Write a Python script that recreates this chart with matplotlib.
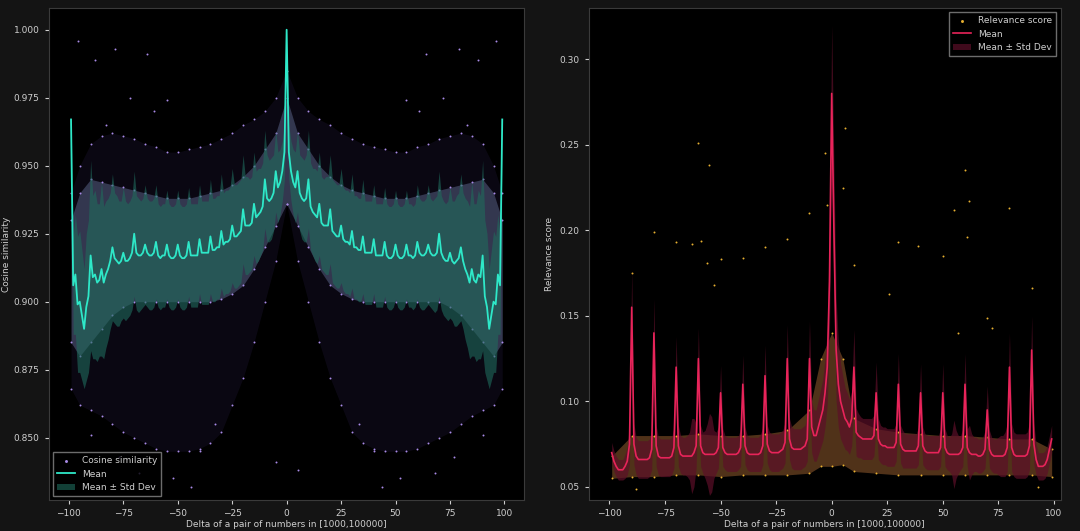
import numpy as np
import matplotlib
matplotlib.use('Agg')
import matplotlib.pyplot as plt

# ---- cosine similarity (left), mean for delta = 0..99, mirrored for negatives
cos_mean_pos = [1.000, 0.955, 0.948, 0.944, 0.942, 0.948, 0.940, 0.938, 0.937, 0.938,
                0.945, 0.935, 0.933, 0.932, 0.931, 0.936, 0.929, 0.928, 0.928, 0.928,
                0.934, 0.926, 0.925, 0.924, 0.924, 0.928, 0.923, 0.922, 0.922, 0.921,
                0.926, 0.920, 0.920, 0.919, 0.919, 0.924, 0.918, 0.918, 0.918, 0.918,
                0.923, 0.917, 0.917, 0.917, 0.917, 0.922, 0.917, 0.916, 0.916, 0.917,
                0.921, 0.917, 0.916, 0.916, 0.917, 0.921, 0.917, 0.917, 0.916, 0.917,
                0.922, 0.918, 0.917, 0.917, 0.918, 0.921, 0.918, 0.917, 0.917, 0.918,
                0.925, 0.918, 0.916, 0.915, 0.915, 0.918, 0.915, 0.914, 0.915, 0.916,
                0.920, 0.915, 0.912, 0.910, 0.907, 0.912, 0.908, 0.907, 0.910, 0.909,
                0.917, 0.902, 0.898, 0.890, 0.895, 0.900, 0.899, 0.910, 0.906, 0.967]
cos_std_pos = [0.000, 0.010, 0.011, 0.012, 0.013, 0.015, 0.014, 0.015, 0.015, 0.016,
               0.018, 0.016, 0.016, 0.017, 0.017, 0.019, 0.017, 0.017, 0.018, 0.018,
               0.020, 0.019, 0.019, 0.019, 0.019, 0.021, 0.019, 0.019, 0.019, 0.019,
               0.021, 0.019, 0.019, 0.019, 0.019, 0.021, 0.019, 0.019, 0.019, 0.019,
               0.020, 0.019, 0.019, 0.019, 0.019, 0.020, 0.019, 0.019, 0.019, 0.019,
               0.020, 0.019, 0.019, 0.019, 0.019, 0.020, 0.019, 0.019, 0.019, 0.019,
               0.021, 0.020, 0.020, 0.020, 0.020, 0.022, 0.020, 0.020, 0.021, 0.021,
               0.023, 0.021, 0.021, 0.021, 0.022, 0.024, 0.022, 0.023, 0.024, 0.024,
               0.027, 0.025, 0.026, 0.027, 0.028, 0.032, 0.028, 0.029, 0.031, 0.030,
               0.035, 0.028, 0.027, 0.022, 0.024, 0.026, 0.025, 0.022, 0.018, 0.001]
# cloud envelopes on a coarse delta grid (0,5,...,95,99)
env_x = [0, 5, 10, 15, 20, 25, 30, 35, 40, 45, 50, 55, 60, 65, 70, 75, 80, 85, 90, 95, 99]
cos_dense_hi = [0.975, 0.962, 0.956, 0.950, 0.946, 0.943, 0.941, 0.940, 0.939, 0.938, 0.938,
                0.938, 0.939, 0.940, 0.941, 0.942, 0.943, 0.944, 0.945, 0.940, 0.930]
cos_dense_lo = [0.936, 0.928, 0.920, 0.912, 0.906, 0.903, 0.901, 0.900, 0.900, 0.900, 0.900,
                0.900, 0.900, 0.900, 0.900, 0.898, 0.895, 0.890, 0.885, 0.880, 0.885]
cos_sparse_hi = [0.985, 0.975, 0.970, 0.967, 0.965, 0.962, 0.960, 0.958, 0.957, 0.956, 0.955,
                 0.955, 0.957, 0.958, 0.960, 0.961, 0.962, 0.961, 0.958, 0.950, 0.940]
cos_sparse_lo = [0.936, 0.915, 0.900, 0.885, 0.872, 0.862, 0.852, 0.848, 0.846, 0.845, 0.845,
                 0.845, 0.846, 0.848, 0.850, 0.852, 0.855, 0.858, 0.860, 0.862, 0.868]
cos_out_x = [-96, -88, -79, -72, -64, -55, -44, -90, -68, -77, -52, -40, -33, -61, -83,
             96, 88, 79, 72, 64, 55, 44, 90, 68, 77, 52, 40, 33, 61, 83, 5, -5]
cos_out_y = [0.996, 0.989, 0.993, 0.975, 0.991, 0.974, 0.832, 0.851, 0.837, 0.843, 0.835, 0.845, 0.855, 0.970, 0.965,
             0.996, 0.989, 0.993, 0.975, 0.991, 0.974, 0.832, 0.851, 0.837, 0.843, 0.835, 0.845, 0.855, 0.970, 0.965, 0.838, 0.841]

# ---- relevance score (right), mean for delta = 0..99 and -1..-99
rel_mean_pos = [0.280, 0.200, 0.130, 0.110, 0.100, 0.095, 0.090, 0.088, 0.085, 0.090,
                0.120, 0.082, 0.080, 0.079, 0.078, 0.078, 0.078, 0.078, 0.078, 0.080,
                0.105, 0.078, 0.075, 0.074, 0.074, 0.073, 0.073, 0.073, 0.073, 0.076,
                0.110, 0.075, 0.072, 0.071, 0.071, 0.071, 0.071, 0.071, 0.071, 0.074,
                0.105, 0.074, 0.071, 0.070, 0.070, 0.070, 0.070, 0.070, 0.070, 0.073,
                0.105, 0.073, 0.070, 0.069, 0.069, 0.069, 0.069, 0.069, 0.070, 0.073,
                0.110, 0.073, 0.070, 0.069, 0.069, 0.069, 0.068, 0.068, 0.069, 0.072,
                0.095, 0.072, 0.069, 0.068, 0.068, 0.068, 0.068, 0.068, 0.069, 0.073,
                0.120, 0.073, 0.069, 0.068, 0.068, 0.068, 0.068, 0.068, 0.069, 0.074,
                0.130, 0.075, 0.066, 0.062, 0.062, 0.062, 0.063, 0.066, 0.072, 0.078]
rel_mean_neg = [0.170, 0.120, 0.105, 0.095, 0.090, 0.085, 0.080, 0.080, 0.085,
                0.125, 0.078, 0.074, 0.073, 0.072, 0.072, 0.072, 0.072, 0.073, 0.078,
                0.125, 0.076, 0.072, 0.071, 0.070, 0.070, 0.070, 0.070, 0.071, 0.075,
                0.115, 0.074, 0.070, 0.069, 0.069, 0.069, 0.069, 0.069, 0.070, 0.074,
                0.110, 0.073, 0.070, 0.069, 0.069, 0.069, 0.069, 0.069, 0.070, 0.073,
                0.105, 0.073, 0.070, 0.069, 0.069, 0.069, 0.069, 0.069, 0.070, 0.074,
                0.125, 0.074, 0.070, 0.068, 0.068, 0.068, 0.068, 0.068, 0.069, 0.074,
                0.120, 0.073, 0.068, 0.067, 0.067, 0.067, 0.067, 0.067, 0.068, 0.074,
                0.140, 0.072, 0.067, 0.066, 0.066, 0.066, 0.066, 0.066, 0.068, 0.075,
                0.155, 0.075, 0.065, 0.062, 0.060, 0.060, 0.060, 0.062, 0.065, 0.070]
rel_std_pos = [0.040, 0.040, 0.030, 0.025, 0.022, 0.020, 0.018, 0.017, 0.016, 0.016,
               0.022, 0.014, 0.013, 0.012, 0.012, 0.012, 0.012, 0.012, 0.012, 0.012,
               0.018, 0.012, 0.011, 0.011, 0.011, 0.011, 0.011, 0.011, 0.011, 0.011,
               0.018, 0.011, 0.011, 0.010, 0.010, 0.010, 0.010, 0.010, 0.010, 0.011,
               0.017, 0.011, 0.010, 0.010, 0.010, 0.010, 0.010, 0.010, 0.010, 0.011,
               0.017, 0.011, 0.010, 0.010, 0.012, 0.020, 0.014, 0.011, 0.010, 0.011,
               0.018, 0.011, 0.016, 0.012, 0.010, 0.010, 0.010, 0.010, 0.010, 0.011,
               0.014, 0.011, 0.010, 0.010, 0.010, 0.011, 0.012, 0.012, 0.013, 0.014,
               0.020, 0.014, 0.013, 0.013, 0.013, 0.013, 0.013, 0.013, 0.013, 0.014,
               0.020, 0.012, 0.009, 0.008, 0.008, 0.008, 0.008, 0.008, 0.008, 0.008]
rel_std_neg = [0.030, 0.022, 0.020, 0.018, 0.017, 0.016, 0.015, 0.015, 0.015,
               0.022, 0.013, 0.012, 0.012, 0.012, 0.012, 0.012, 0.012, 0.012, 0.012,
               0.020, 0.012, 0.011, 0.011, 0.011, 0.011, 0.011, 0.011, 0.011, 0.011,
               0.018, 0.011, 0.011, 0.010, 0.010, 0.010, 0.010, 0.010, 0.010, 0.011,
               0.017, 0.011, 0.010, 0.010, 0.010, 0.010, 0.010, 0.010, 0.010, 0.011,
               0.016, 0.012, 0.012, 0.014, 0.022, 0.024, 0.018, 0.014, 0.012, 0.012,
               0.018, 0.013, 0.020, 0.022, 0.014, 0.012, 0.011, 0.011, 0.011, 0.012,
               0.018, 0.012, 0.011, 0.011, 0.011, 0.011, 0.011, 0.011, 0.011, 0.012,
               0.020, 0.012, 0.011, 0.011, 0.011, 0.011, 0.011, 0.011, 0.011, 0.012,
               0.022, 0.012, 0.008, 0.007, 0.006, 0.006, 0.006, 0.006, 0.006, 0.006]
rel_env_x = [-99, -90, -80, -70, -60, -50, -40, -30, -20, -10, -5, 0, 5, 10, 20, 30, 40, 50, 60, 70, 80, 90, 99]
rel_dense_hi = [0.068, 0.080, 0.080, 0.080, 0.081, 0.080, 0.080, 0.081, 0.083, 0.095, 0.125, 0.140,
                0.125, 0.090, 0.084, 0.082, 0.081, 0.080, 0.080, 0.079, 0.078, 0.078, 0.072]
rel_dense_lo = [0.055, 0.056, 0.056, 0.057, 0.057, 0.056, 0.057, 0.057, 0.057, 0.058, 0.062, 0.062,
                0.063, 0.059, 0.058, 0.057, 0.057, 0.057, 0.057, 0.057, 0.057, 0.057, 0.056]
rel_out_x = [-90, -80, -70, -63, -60, -59, -56, -55, -50, -40, -30, -20, -10, -3, -2, 6, 5, 10, 26, 30, 39, 50,
             55, 60, 61, 62, 70, 72, 80, 90, -88, 93, -53, 57]
rel_out_y = [0.175, 0.199, 0.193, 0.192, 0.251, 0.194, 0.181, 0.238, 0.183, 0.184, 0.190, 0.195, 0.210, 0.245,
             0.215, 0.260, 0.225, 0.180, 0.163, 0.193, 0.191, 0.185, 0.212, 0.235, 0.196, 0.217, 0.149, 0.143,
             0.213, 0.166, 0.049, 0.050, 0.168, 0.140]

d_pos = np.arange(0, 100)
d_all = np.concatenate([-d_pos[:0:-1], d_pos])
cos_mean = np.concatenate([np.array(cos_mean_pos)[:0:-1], cos_mean_pos])
cos_std = np.concatenate([np.array(cos_std_pos)[:0:-1], cos_std_pos])
rel_mean = np.concatenate([np.array(rel_mean_neg)[::-1], rel_mean_pos])
rel_std = np.concatenate([np.array(rel_std_neg)[::-1], rel_std_pos])
env_all = np.concatenate([-np.array(env_x)[:0:-1], env_x])

def mirror(v):
    return np.concatenate([np.array(v)[:0:-1], v])

fig = plt.figure(figsize=(10.8, 5.31), dpi=100, facecolor='#141414')
txt = '#cfcfcf'

def style(ax):
    ax.set_facecolor('black')
    for s in ax.spines.values():
        s.set_color('#3a3a3a')
    ax.tick_params(colors=txt, labelsize=6.5, length=3)

# left panel
ax1 = fig.add_axes([0.045, 0.058, 0.440, 0.927])
style(ax1)
ax1.fill_between(env_all, mirror(cos_sparse_lo), mirror(cos_sparse_hi), color='#6a4cb8', alpha=0.10, lw=0)
ax1.fill_between(env_all, mirror(cos_dense_lo), mirror(cos_dense_hi), color='#9fb4ee', alpha=0.28, lw=0)
ax1.scatter(np.concatenate([env_all] * 4),
            np.concatenate([mirror(cos_sparse_lo), mirror(cos_sparse_hi), mirror(cos_dense_lo), mirror(cos_dense_hi)]),
            s=2, color='#a98be8', lw=0, label='Cosine similarity')
ax1.scatter(cos_out_x, cos_out_y, s=2, color='#a98be8', lw=0)
ax1.fill_between(d_all, cos_mean - cos_std, cos_mean + cos_std, color='#1f6b5c', alpha=0.6, lw=0, label='Mean ± Std Dev')
ax1.plot(d_all, cos_mean, color='#2ee8c8', lw=1.3, label='Mean')
ax1.set_xlim(-109.3, 108.9)
ax1.set_ylim(0.827, 1.008)
ax1.set_xticks([-100, -75, -50, -25, 0, 25, 50, 75, 100])
ax1.set_yticks([0.850, 0.875, 0.900, 0.925, 0.950, 0.975, 1.000])
ax1.yaxis.set_major_formatter(matplotlib.ticker.FormatStrFormatter('%.3f'))
ax1.set_xlabel('Delta of a pair of numbers in [1000,100000]', color=txt, fontsize=6.5, labelpad=1)
ax1.set_ylabel('Cosine similarity', color=txt, fontsize=6.5, labelpad=2)
h, l = ax1.get_legend_handles_labels()
order = [l.index('Cosine similarity'), l.index('Mean'), l.index('Mean ± Std Dev')]
ax1.legend([h[i] for i in order], [l[i] for i in order], loc='lower left', fontsize=6.5,
           facecolor='black', edgecolor='#888888', labelcolor=txt, markerscale=1.5, fancybox=False)

# right panel
ax2 = fig.add_axes([0.545, 0.058, 0.437, 0.927])
style(ax2)
ax2.fill_between(rel_env_x, rel_dense_lo, rel_dense_hi, color='#e89048', alpha=0.35, lw=0)
ax2.scatter(np.concatenate([rel_env_x] * 2), np.concatenate([rel_dense_lo, rel_dense_hi]),
            s=2, color='#e8b030', lw=0, label='Relevance score')
ax2.scatter(rel_out_x, rel_out_y, s=2, color='#e8b030', lw=0)
ax2.fill_between(d_all, rel_mean - rel_std, rel_mean + rel_std, color='#5c0f28', alpha=0.7, lw=0, label='Mean ± Std Dev')
ax2.plot(d_all, rel_mean, color='#e8245a', lw=1.2, label='Mean')
ax2.set_xlim(-109.4, 103)
ax2.set_ylim(0.0422, 0.330)
ax2.set_xticks([-100, -75, -50, -25, 0, 25, 50, 75, 100])
ax2.set_yticks([0.05, 0.10, 0.15, 0.20, 0.25, 0.30])
ax2.yaxis.set_major_formatter(matplotlib.ticker.FormatStrFormatter('%.2f'))
ax2.set_xlabel('Delta of a pair of numbers in [1000,100000]', color=txt, fontsize=6.5, labelpad=1)
ax2.set_ylabel('Relevance score', color=txt, fontsize=6.5)
h, l = ax2.get_legend_handles_labels()
order = [l.index('Relevance score'), l.index('Mean'), l.index('Mean ± Std Dev')]
ax2.legend([h[i] for i in order], [l[i] for i in order], loc='upper right', fontsize=6.5,
           facecolor='black', edgecolor='#888888', labelcolor=txt, markerscale=1.5, fancybox=False)

fig.savefig('out.png', dpi=100, facecolor=fig.get_facecolor())
